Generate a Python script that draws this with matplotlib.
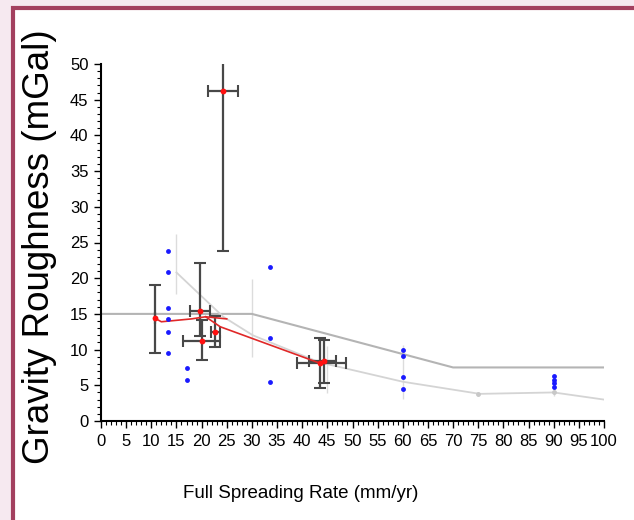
import matplotlib
matplotlib.use('Agg')
import matplotlib.pyplot as plt
from matplotlib import font_manager
from matplotlib.patches import Rectangle
from matplotlib.ticker import MultipleLocator

# red points with error bars (rate, roughness)
rate = [24.3, 10.7, 19.7, 20.0, 22.7, 43.5, 44.3]
rough = [46.2, 14.4, 15.4, 11.2, 12.5, 8.1, 8.4]
rough_lo = [22.4, 4.9, 3.5, 2.7, 2.1, 3.5, 3.1]
rough_hi = [5.0, 4.6, 6.7, 2.9, 2.2, 3.5, 3.0]
rate_lo = [3.0, 0.0, 2.0, 3.7, 0.8, 4.5, 3.0]
rate_hi = [2.9, 0.0, 1.9, 3.7, 1.0, 5.2, 2.5]

# red running line
red_x1 = [10.7, 12.0, 18.0, 20.8, 25.0]
red_y1 = [14.4, 13.9, 14.3, 14.6, 14.3]
red_x2 = [20.8, 23.7, 43.5]
red_y2 = [14.6, 13.2, 8.1]

# individual measurements
blue_x = [13.3] * 6 + [17.1] * 2 + [33.6] * 3 + [60] * 4 + [90] * 4
blue_y = [23.8, 20.9, 15.8, 14.3, 12.5, 9.5, 7.4, 5.7, 21.6, 11.6, 5.5,
          9.9, 9.1, 6.2, 4.5, 6.3, 5.8, 5.3, 4.8]

# model curves
modelA_x = [0, 30, 70, 100]
modelA_y = [15, 15, 7.5, 7.5]
modelB_x = [15, 24.3, 30.2, 43.5, 60, 75.3, 90, 100]
modelB_y = [20.8, 14.6, 12.0, 8.2, 5.5, 3.8, 4.0, 3.0]
binB_x = [15, 30, 45, 60, 75, 90]
binB_y = [22.0, 14.4, 7.2, 6.85, 3.8, 4.0]
binB_err = [4.2, 5.5, 3.3, 3.75, 0.3, 0.5]

names = {f.name for f in font_manager.fontManager.ttflist}
narrow = 'Liberation Sans Narrow' if 'Liberation Sans Narrow' in names else 'Liberation Sans'
plt.rcParams['font.family'] = ['Liberation Sans', 'DejaVu Sans']

fig = plt.figure(figsize=(6.34, 5.2), dpi=100, facecolor='#f6e9f0')
# white panel with magenta frame
fig.patches.append(Rectangle((13 / 634, -0.1), 1.0, 1 - 8 / 520 + 0.1,
                             transform=fig.transFigure, facecolor='white',
                             edgecolor='#a3405f', linewidth=3, zorder=-5))

ax = fig.add_axes([101 / 634, 1 - 421 / 520, 503 / 634, 357 / 520])
ax.set_facecolor('none')
ax.set_zorder(2)

ax.errorbar(binB_x, binB_y, yerr=binB_err, fmt='none', ecolor='#dcdcdc',
            elinewidth=1, zorder=1)
ax.plot(modelA_x, modelA_y, color='#b4b4b4', lw=1.5, zorder=2)
ax.plot(modelB_x, modelB_y, color='#d4d4d4', lw=1.3, zorder=2)
ax.plot(binB_x[4:], binB_y[4:], 'o', color='#c8c8c8', ms=2.5, zorder=2)

ax.errorbar(rate, rough, yerr=[rough_lo, rough_hi], xerr=[rate_lo, rate_hi],
            fmt='none', ecolor='#484848', elinewidth=1.6, capsize=4,
            capthick=1.5, zorder=3)
ax.plot(red_x1, red_y1, color='#e02828', lw=1.2, zorder=4)
ax.plot(red_x2, red_y2, color='#e02828', lw=1.2, zorder=4)
ax.plot(rate, rough, 'o', color='#ff1010', ms=4.2, zorder=5, mec='none')
ax.plot(blue_x, blue_y, 'o', color='#1a1aff', ms=3.5, zorder=5, mec='none')

ax.set_xlim(0, 100)
ax.set_ylim(0, 50)
ax.xaxis.set_major_locator(MultipleLocator(5))
ax.xaxis.set_minor_locator(MultipleLocator(1))
ax.yaxis.set_major_locator(MultipleLocator(5))
ax.yaxis.set_minor_locator(MultipleLocator(1))
ax.tick_params(which='major', direction='out', length=5, width=1, pad=4)
ax.tick_params(which='minor', direction='out', length=3, width=0.8)
for lab in ax.get_xticklabels() + ax.get_yticklabels():
    lab.set_family(narrow)
    lab.set_fontsize(12)
ax.spines['top'].set_visible(False)
ax.spines['right'].set_visible(False)
ax.spines['left'].set_linewidth(1.5)
ax.spines['bottom'].set_linewidth(1.5)

fig.text(40 / 634, 1 - 247 / 520, 'Gravity Roughness (mGal)', rotation=90,
         ha='center', va='center', fontsize=26.5, family='Liberation Sans')
fig.text(301 / 634, 1 - 493 / 520, 'Full Spreading Rate (mm/yr)',
         ha='center', va='center', fontsize=13.5, family=narrow)

fig.savefig('out.png', dpi=100, facecolor=fig.get_facecolor())
